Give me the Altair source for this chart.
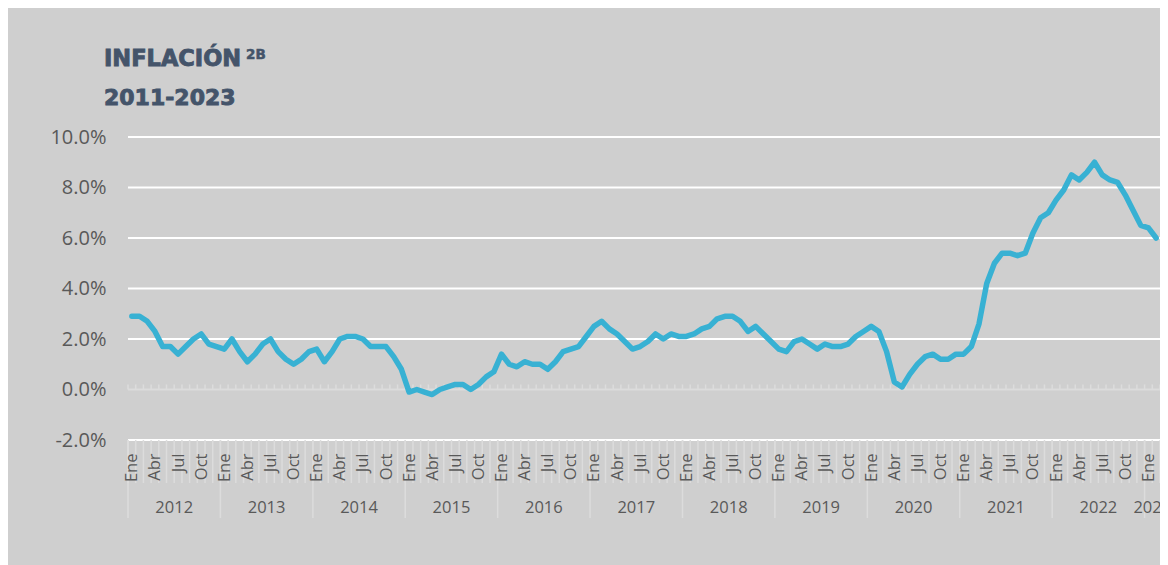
import json
import altair as alt
import pandas as pd

month_names = ["Ene", "Feb", "Mar", "Abr", "May", "Jun", "Jul", "Ago", "Sep", "Oct", "Nov", "Dic"]
years = list(range(2012, 2024))
inflation = [
    2.9, 2.9, 2.7, 2.3, 1.7, 1.7, 1.4, 1.7, 2.0, 2.2, 1.8, 1.7,   # 2012
    1.6, 2.0, 1.5, 1.1, 1.4, 1.8, 2.0, 1.5, 1.2, 1.0, 1.2, 1.5,   # 2013
    1.6, 1.1, 1.5, 2.0, 2.1, 2.1, 2.0, 1.7, 1.7, 1.7, 1.3, 0.8,   # 2014
    -0.1, 0.0, -0.1, -0.2, 0.0, 0.1, 0.2, 0.2, 0.0, 0.2, 0.5, 0.7,  # 2015
    1.4, 1.0, 0.9, 1.1, 1.0, 1.0, 0.8, 1.1, 1.5, 1.6, 1.7, 2.1,   # 2016
    2.5, 2.7, 2.4, 2.2, 1.9, 1.6, 1.7, 1.9, 2.2, 2.0, 2.2, 2.1,   # 2017
    2.1, 2.2, 2.4, 2.5, 2.8, 2.9, 2.9, 2.7, 2.3, 2.5, 2.2, 1.9,   # 2018
    1.6, 1.5, 1.9, 2.0, 1.8, 1.6, 1.8, 1.7, 1.7, 1.8, 2.1, 2.3,   # 2019
    2.5, 2.3, 1.5, 0.3, 0.1, 0.6, 1.0, 1.3, 1.4, 1.2, 1.2, 1.4,   # 2020
    1.4, 1.7, 2.6, 4.2, 5.0, 5.4, 5.4, 5.3, 5.4, 6.2, 6.8, 7.0,   # 2021
    7.5, 7.9, 8.5, 8.3, 8.6, 9.0, 8.5, 8.3, 8.2, 7.7, 7.1, 6.5,   # 2022
    6.4, 6.0,                                                     # 2023
]
y_ticks = [-2, 0, 2, 4, 6, 8, 10]
grid_values = [-2, 2, 4, 6, 8, 10]

n = len(inflation)
df = pd.DataFrame({"i": list(range(n)), "v": inflation})
bounds = pd.DataFrame({"i": [k - 0.5 for k in range(n + 1)], "v": [0.0] * (n + 1), "v2": [0.2] * (n + 1)})
year_bounds = pd.DataFrame({"i": [k - 0.5 for k in range(0, n + 1, 12)]})
year_df = pd.DataFrame({
    "year": [str(y) for y in years],
    "i": [(12 * k + min(12 * k + 11, n - 1)) / 2 for k in range(len(years))],
})
grid_df = pd.DataFrame({"v": grid_values})
zero_df = pd.DataFrame({"v": [0.0]})

W, H = 1032, 303
BG = "#cfcfcf"
LABEL = "#595959"
SEP = "#dcdcdc"
FONT = "Open Sans"

xs = alt.Scale(domain=[-0.5, n - 0.5], nice=False, zero=False)
ys = alt.Scale(domain=[-2, 10], nice=False, zero=False)

label_expr = json.dumps(month_names) + "[datum.value % 12]"

x_axis = alt.Axis(
    values=list(range(0, n, 3)), labelExpr=label_expr, labelAngle=270,
    labelAlign="right", labelBaseline="middle", labelPadding=13,
    labelFont=FONT, labelFontSize=16.5, labelColor=LABEL,
    labelOverlap=False, labelBound=False, labelFlush=False,
    domain=False, ticks=False, grid=False, title=None, zindex=2,
)
y_axis = alt.Axis(
    values=y_ticks,
    labelExpr="(datum.value < 0 ? '-' : '') + format(abs(datum.value), '.1f') + '%'",
    labelFont=FONT, labelFontSize=20, labelColor=LABEL, labelPadding=22,
    domain=False, ticks=False, grid=False, title=None, zindex=2,
)

def X():
    return alt.X("i:Q", scale=xs, axis=x_axis)

def Y():
    return alt.Y("v:Q", scale=ys, axis=y_axis)

grid = alt.Chart(grid_df).mark_rule(color="white", strokeWidth=2).encode(y=Y())
zero_line = alt.Chart(zero_df).mark_rule(color=SEP, strokeWidth=2).encode(y=Y())
zero_ticks = alt.Chart(bounds).mark_rule(color=SEP, strokeWidth=1.5).encode(
    x=X(), y=Y(), y2="v2:Q",
)
month_seps = alt.Chart(bounds).mark_rule(color=SEP, strokeWidth=1.5).encode(
    x=X(), y=alt.value(H), y2=alt.value(H + 43),
)
year_seps = alt.Chart(year_bounds).mark_rule(color=SEP, strokeWidth=1.5).encode(
    x=X(), y=alt.value(H), y2=alt.value(H + 78),
)
year_text = alt.Chart(year_df).mark_text(
    font=FONT, fontSize=16.5, color=LABEL, baseline="middle", align="center"
).encode(x=X(), y=alt.value(H + 68), text="year:N")

line = alt.Chart(df).mark_line(
    color="#38b1d3", strokeWidth=5.5, strokeCap="round", strokeJoin="round"
).encode(x=X(), y=Y())

TITLE_COLOR = "#44546a"
TFONT = "DejaVu Sans"
title1 = alt.Chart(zero_df).mark_text(
    text="INFLACIÓN", font=TFONT, fontSize=22.5, fontWeight="bold", color=TITLE_COLOR,
    stroke=TITLE_COLOR, strokeWidth=0.9, align="left", baseline="alphabetic",
).encode(x=alt.value(-24), y=alt.value(-71))
title_sup = alt.Chart(zero_df).mark_text(
    text="2B", font=TFONT, fontSize=13.5, fontWeight="bold", color=TITLE_COLOR,
    stroke=TITLE_COLOR, strokeWidth=0.5, align="left", baseline="alphabetic",
).encode(x=alt.value(118), y=alt.value(-78))
title2 = alt.Chart(zero_df).mark_text(
    text="2011-2023", font=TFONT, fontSize=22, fontWeight="bold", color=TITLE_COLOR,
    stroke=TITLE_COLOR, strokeWidth=0.9, align="left", baseline="alphabetic",
).encode(x=alt.value(-24), y=alt.value(-32))

chart = alt.layer(
    grid, zero_line, zero_ticks, month_seps, year_seps, year_text,
    title1, title_sup, title2, line,
).properties(
    width=W, height=H,
    autosize=alt.AutoSizeParams(type="none"),
    padding={"left": 120, "top": 129, "right": 0, "bottom": 125},
    background=BG,
).configure_view(stroke=None)

chart.save("out.html", embed_options={"renderer": "svg", "actions": False})
